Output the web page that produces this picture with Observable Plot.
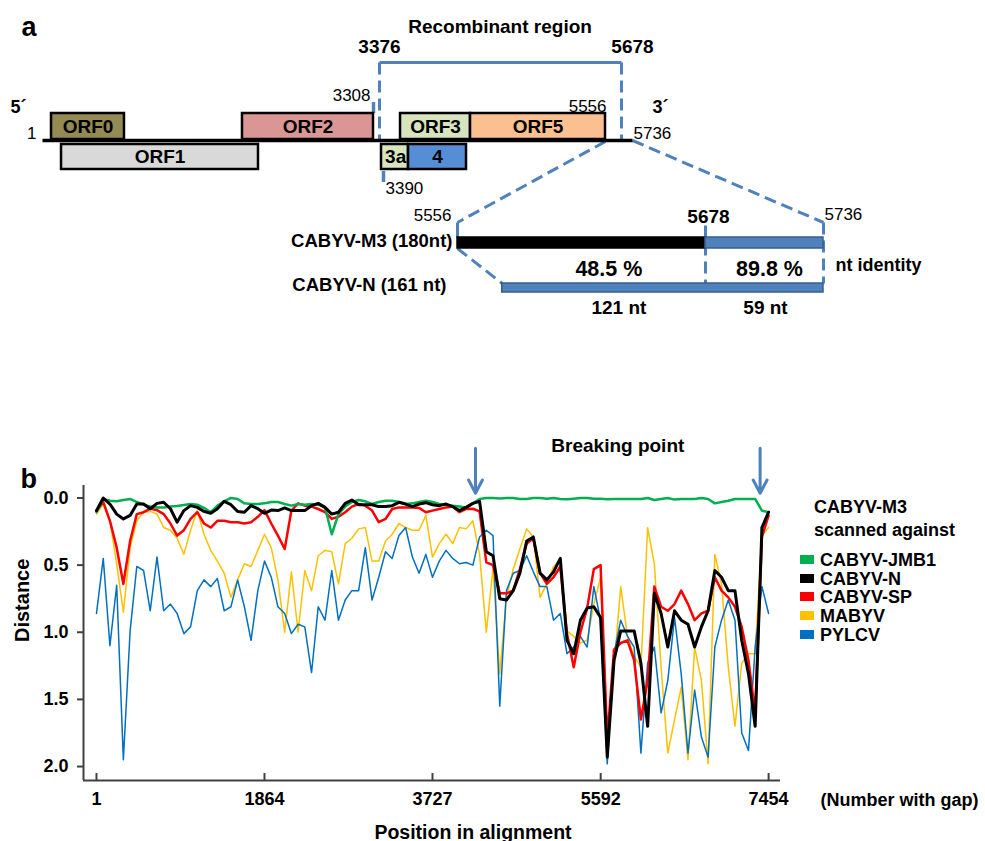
<!DOCTYPE html>
<html><head><meta charset="utf-8">
<script src="https://cdn.jsdelivr.net/npm/d3@7"></script>
<script src="https://cdn.jsdelivr.net/npm/@observablehq/plot@0.6"></script>
<style>
body{margin:0;background:#fff;font-family:"Liberation Sans",Arial,Helvetica,sans-serif;}
#page{position:relative;width:985px;height:841px;overflow:hidden;background:#fff;}
#page svg{display:block;}
.lg{position:absolute;font-weight:bold;font-size:18px;line-height:18px;white-space:nowrap;color:#000;}
.sw{position:absolute;width:14px;height:9px;}
</style></head><body><div id="page"></div>
<script>
// ================= DATA =================
// ---- panel a : genome map (nucleotide coordinates) ----
const genomeLength = 5736;
const orfNames = ["ORF0", "ORF1", "ORF2", "ORF3", "ORF5", "3a", "4"];
const orfStart = [91, 191, 1999, 3556, 4239, 3383, 3634];
const orfEnd   = [820, 2159, 3308, 4239, 5556, 3634, 4200];
const orfRow   = ["upper", "lower", "upper", "upper", "upper", "lower", "lower"];
const recombStart = 3376, recombEnd = 5678;
const markerTop = 3308, markerBottom = 3390;
const insetStart = 5556, insetBreak = 5678, insetEnd = 5736;
const nStart = 5578;
const identityLabels = ["48.5 %", "89.8 %"];
const lengthLabels = ["121 nt", "59 nt"];

// ---- panel b : distance scan ----
const positions = [1,76,150,225,299,374,448,523,597,672,746,821,895,970,1044,1119,1193,1268,1342,1417,
1492,1566,1641,1715,1790,1864,1939,2013,2088,2162,2237,2311,2386,2460,2535,2610,2684,2759,2833,2908,
2982,3057,3131,3206,3280,3355,3429,3504,3578,3653,3727,3802,3877,3951,4026,4100,4175,4249,4324,4398,
4473,4547,4622,4696,4771,4845,4920,4995,5069,5144,5218,5293,5367,5442,5516,5591,5665,5740,5814,5889,
5963,6038,6113,6187,6262,6336,6411,6485,6560,6634,6709,6783,6858,6932,7007,7081,7156,7231,7305,7380,7454];
const jmb1 = [0.106,0.007,0.02,0.025,0.015,0.007,0.03,0.05,0.064,0.07,
0.07,0.064,0.06,0.052,0.045,0.05,0.074,0.106,0.057,0.025,
0.0,0.007,0.04,0.045,0.045,0.04,0.03,0.03,0.045,0.057,
0.045,0.05,0.045,0.05,0.07,0.27,0.12,0.064,0.03,0.015,
0.025,0.045,0.03,0.02,0.02,0.03,0.045,0.04,0.03,0.02,
0.03,0.045,0.05,0.057,0.064,0.07,0.04,0.007,0.0,0.0,
0.003,0.0,0.0,0.007,0.007,0.0,0.0,0.005,0.0,0.007,
0.01,0.005,0.0,0.0,0.005,0.005,0.01,0.007,0.007,0.007,
0.007,0.007,0.0,0.015,0.007,0.0,0.012,0.007,0.007,0.007,
0.0,0.007,0.04,0.03,0.02,0.007,0.007,0.007,0.007,0.094,0.106];
const cabyvN = [0.094,0.0,0.045,0.12,0.156,0.13,0.045,0.045,0.08,0.04,
0.032,0.08,0.18,0.094,0.057,0.07,0.1,0.114,0.08,0.025,
0.05,0.1,0.106,0.057,0.08,0.114,0.09,0.094,0.074,0.094,
0.094,0.094,0.057,0.04,0.07,0.12,0.106,0.04,0.015,0.05,
0.05,0.05,0.064,0.064,0.057,0.032,0.045,0.064,0.045,0.035,
0.05,0.057,0.045,0.064,0.094,0.07,0.04,0.025,0.4,0.43,
0.75,0.76,0.69,0.56,0.32,0.29,0.56,0.61,0.55,0.45,
1.06,1.16,0.91,0.82,0.81,0.89,1.93,1.21,0.99,0.99,
0.99,1.23,1.7,0.71,0.86,1.11,0.84,0.91,0.94,1.11,
0.96,0.84,0.54,0.59,0.69,0.69,1.06,1.31,1.7,0.22,0.106];
const cabyvSP = [0.094,0.03,0.17,0.37,0.64,0.32,0.12,0.106,0.08,0.09,
0.12,0.19,0.28,0.24,0.156,0.106,0.19,0.22,0.17,0.17,
0.18,0.18,0.19,0.18,0.14,0.09,0.19,0.28,0.38,0.094,
0.04,0.057,0.064,0.082,0.106,0.156,0.14,0.106,0.064,0.045,
0.057,0.094,0.18,0.156,0.082,0.07,0.07,0.07,0.074,0.106,
0.094,0.082,0.07,0.064,0.106,0.082,0.08,0.1,0.48,0.5,
0.71,0.71,0.69,0.53,0.34,0.3,0.56,0.64,0.59,0.51,
1.01,1.26,1.0,0.82,0.53,0.5,1.8,1.13,1.08,1.06,
1.21,1.65,1.36,0.66,0.81,0.84,0.79,0.69,0.79,0.91,
0.86,0.84,0.59,0.69,0.74,0.81,0.96,1.21,1.6,0.29,0.13];
const mabyv = [0.12,0.045,0.17,0.49,0.85,0.37,0.17,0.106,0.1,0.12,
0.22,0.24,0.3,0.42,0.24,0.094,0.27,0.39,0.47,0.56,
0.74,0.61,0.49,0.51,0.39,0.27,0.37,0.61,1.0,0.55,
1.0,0.54,0.69,0.43,0.39,0.4,0.64,0.34,0.3,0.23,
0.22,0.47,0.47,0.32,0.27,0.19,0.22,0.24,0.24,0.13,
0.44,0.34,0.27,0.34,0.22,0.23,0.17,0.42,1.0,0.52,
1.31,0.74,0.53,0.38,0.23,0.29,0.74,0.64,0.51,0.47,
0.99,1.03,1.08,1.06,0.79,0.59,1.78,1.26,0.66,1.03,
1.18,1.26,0.22,0.49,1.26,1.9,1.65,1.41,1.95,1.11,
1.36,1.98,0.42,0.64,1.26,1.7,1.23,1.16,1.16,0.28,0.22];
const pylcv = [0.86,0.45,1.1,0.65,1.95,0.99,0.51,0.54,0.84,0.44,
0.84,0.79,0.86,1.01,0.96,0.69,0.61,0.66,0.6,0.84,
0.81,0.61,0.81,1.06,0.69,0.47,0.59,0.81,0.86,1.01,
0.94,0.96,1.3,0.81,0.91,0.54,0.91,0.76,0.69,0.69,
0.37,0.76,0.59,0.4,0.45,0.28,0.22,0.44,0.56,0.42,
0.59,0.47,0.39,0.45,0.49,0.48,0.5,0.29,0.24,0.28,
1.55,0.69,0.56,0.54,0.43,0.55,0.66,0.66,0.91,0.86,
1.16,1.11,1.03,1.11,0.66,0.91,1.98,1.16,0.91,1.03,
1.11,1.9,1.23,1.11,1.6,1.36,0.89,1.31,1.9,1.43,
1.78,1.93,1.11,0.91,0.76,0.91,1.75,1.88,1.11,0.66,0.86];
const seriesNames = ["CABYV-JMB1", "CABYV-N", "CABYV-SP", "MABYV", "PYLCV"];
const seriesValues = [jmb1, cabyvN, cabyvSP, mabyv, pylcv];
const xTicks = [1, 1864, 3727, 5592, 7454];
const yTicks = [0, 0.5, 1, 1.5, 2];
const breakpoints = [4204, 7360];

// ================= STYLE / LAYOUT =================
const FONT = '"Liberation Sans", Arial, Helvetica, sans-serif';
const BLUE = "#4f81bd", BLUE_DARK = "#385d8a", AXIS = "#404040";
const seriesColors = ["#00b050", "#000000", "#ff0000", "#ffc000", "#0070c0"];
const seriesWidths = [2.5, 3, 2.5, 1.5, 1.5];
const drawOrder = [3, 4, 2, 0, 1];
const orfFill = {ORF0: "#948a54", ORF1: "#d9d9d9", ORF2: "#d99694", ORF3: "#d7e4bd", ORF5: "#fac090", "3a": "#d7e4bd", "4": "#558ed5"};
const genomeKnots = [1, 3308, 3376, 3390, 5556, 5678, 5736];
const genomePx = [42, 373, 379, 383, 605, 621, 632];
const insetPx = [457, 705, 823];
const rowY = {upper: [113, 139], lower: [144, 169]};
const LINE_Y = 140, BRACKET_Y = 62, INSET_TOP = 222, M3_Y = [237, 248], N_Y = [283, 292];
const DASH = "12,6";

const mainX = d3.scaleLinear(genomeKnots, genomePx);
const insetX = d3.scaleLinear([insetStart, insetBreak, insetEnd], insetPx);
const toMain = nt => mainX.invert(insetX(nt));

const page = document.getElementById("page");

// ================= PANEL A =================
const orfs = orfNames.map((name, i) => ({name, start: orfStart[i], end: orfEnd[i], row: orfRow[i]}));
const dashed = [
  {x1: recombStart, y1: BRACKET_Y, x2: recombStart, y2: LINE_Y},
  {x1: recombEnd, y1: BRACKET_Y, x2: recombEnd, y2: LINE_Y},
  {x1: insetStart, y1: LINE_Y + 1, x2: toMain(insetStart), y2: INSET_TOP},
  {x1: genomeLength, y1: LINE_Y, x2: toMain(insetEnd), y2: INSET_TOP},
  {x1: toMain(insetBreak), y1: 225, x2: toMain(insetBreak), y2: N_Y[0]},
  {x1: toMain(insetEnd), y1: INSET_TOP, x2: toMain(insetEnd), y2: N_Y[0]},
  {x1: toMain(insetStart), y1: M3_Y[1], x2: toMain(nStart), y2: N_Y[0]}
];
const solid = [
  {x1: recombStart, y1: BRACKET_Y, x2: recombEnd, y2: BRACKET_Y},
  {x1: toMain(insetStart), y1: INSET_TOP, x2: toMain(insetStart), y2: M3_Y[0]}
];
const m3Bars = [
  {x1: toMain(insetStart), x2: toMain(insetBreak), fill: "#000000", stroke: "#000000"},
  {x1: toMain(insetBreak), x2: toMain(insetEnd), fill: BLUE, stroke: BLUE_DARK}
];
const nBars = [{x1: toMain(nStart), x2: toMain(insetEnd), fill: BLUE, stroke: BLUE_DARK}];

const T = (text, x, y, o = {}) => Plot.text([text], {x: () => x, y: () => y, text: d => d, lineAnchor: "bottom", fontSize: 17, fontWeight: "normal", fill: "#000", ...o});
const B = {fontWeight: "bold"};
const mid1 = toMain((nStart + insetBreak) / 2), mid2 = toMain((insetBreak + insetEnd) / 2);

const chartA = Plot.plot({
  width: 985, height: 400, margin: 0,
  style: {fontFamily: FONT, background: "transparent", overflow: "visible", color: "#000"},
  x: {type: "linear", domain: genomeKnots, range: genomePx, axis: null},
  y: {type: "linear", domain: [0, 400], range: [0, 400], axis: null},
  color: {type: "identity"},
  marks: [
    Plot.link(dashed, {x1: "x1", y1: "y1", x2: "x2", y2: "y2", stroke: BLUE, strokeWidth: 3, strokeDasharray: DASH}),
    Plot.link(solid, {x1: "x1", y1: "y1", x2: "x2", y2: "y2", stroke: BLUE, strokeWidth: 3}),
    Plot.ruleX([markerTop], {x: d => d, y1: () => 102, y2: () => 113, stroke: BLUE, strokeWidth: 3.5}),
    Plot.ruleX([markerBottom], {x: d => d, y1: () => 171, y2: () => 182, stroke: BLUE, strokeWidth: 3.5}),
    Plot.link([genomeLength], {x1: () => 1, x2: d => d, y1: () => LINE_Y, y2: () => LINE_Y, stroke: "#000", strokeWidth: 3.5}),
    Plot.rect(orfs, {x1: "start", x2: "end", y1: d => rowY[d.row][0], y2: d => rowY[d.row][1], fill: d => orfFill[d.name], stroke: "#000", strokeWidth: 2.5}),
    Plot.text(orfs, {x: d => (d.start + d.end) / 2, y: d => (rowY[d.row][0] + rowY[d.row][1]) / 2, text: "name", fontSize: 19, fontWeight: "bold", fill: "#000"}),
    Plot.rect(m3Bars, {x1: "x1", x2: "x2", y1: () => M3_Y[0], y2: () => M3_Y[1], fill: "fill", stroke: "stroke", strokeWidth: 1.5}),
    Plot.rect(nBars, {x1: "x1", x2: "x2", y1: () => N_Y[0], y2: () => N_Y[1], fill: "fill", stroke: "stroke", strokeWidth: 1.5}),
    Plot.text(["a"], {frameAnchor: "top-left", dx: 21, dy: 35, lineAnchor: "bottom", textAnchor: "start", fontSize: 27, fontWeight: "bold", fill: "#000"}),
    T("Recombinant region", (recombStart + recombEnd) / 2, 32, {...B, fontSize: 19}),
    T(String(recombStart), recombStart, 52, {...B, fontSize: 19}),
    T(String(recombEnd), recombEnd, 52, {...B, fontSize: 19, dx: 11}),
    T(String(markerTop), markerTop, 100, {textAnchor: "end", dx: -3}),
    T(String(insetStart), insetStart, 111, {textAnchor: "end", dx: 1}),
    T("5´", 1, 112, {...B, fontSize: 18, textAnchor: "start", dx: -32}),
    T("1", 1, 138, {textAnchor: "end", dx: -6}),
    T("3´", genomeLength, 112, {...B, fontSize: 18, textAnchor: "start", dx: 20}),
    T(String(genomeLength), genomeLength, 138, {textAnchor: "start", dx: 1}),
    T(String(markerBottom), markerBottom, 193, {textAnchor: "start", dx: 2}),
    T(String(insetStart), toMain(insetStart), 220, {textAnchor: "end", dx: -6}),
    T(String(insetBreak), toMain(insetBreak), 222, {...B, fontSize: 19, dx: 3}),
    T(String(insetEnd), toMain(insetEnd), 219, {textAnchor: "start", dx: 1}),
    T("CABYV-M3 (180nt)", toMain(insetStart), 246, {...B, fontSize: 18.5, textAnchor: "end", dx: -5}),
    T("CABYV-N (161 nt)", toMain(insetStart), 290, {...B, fontSize: 18.5, textAnchor: "end", dx: -11}),
    T(identityLabels[0], mid1, 275, {...B, fontSize: 21.5, dx: 5}),
    T(identityLabels[1], mid2, 275, {...B, fontSize: 21.5, dx: 5}),
    T("nt identity", toMain(insetEnd), 270, {...B, fontSize: 18, textAnchor: "start", dx: 12}),
    T(lengthLabels[0], mid1, 313, {...B, fontSize: 19, dx: 15}),
    T(lengthLabels[1], mid2, 313, {...B, fontSize: 19, dx: 1})
  ]
});
page.appendChild(chartA);

// ================= PANEL B =================
const xDomain = [-143, 7586], yDomain = [-0.093, 2.104];
const lineMarks = drawOrder.map(k => Plot.line(
  positions.map((p, i) => ({series: seriesNames[k], x: p, y: seriesValues[k][i]})),
  {x: "x", y: "y", stroke: seriesColors[k], strokeWidth: seriesWidths[k], strokeLinejoin: "round"}
));

const chartB = Plot.plot({
  width: 985, height: 441,
  marginTop: 85, marginBottom: 61, marginLeft: 83, marginRight: 205,
  style: {fontFamily: FONT, fontSize: "18px", fontWeight: "bold", background: "transparent", overflow: "visible", color: "#000"},
  x: {type: "linear", domain: xDomain, axis: null},
  y: {type: "linear", domain: yDomain, reverse: true, axis: null},
  marks: [
    Plot.axisY({ticks: yTicks, tickFormat: d3.format(".1f"), tickSize: 6, tickPadding: 9, stroke: AXIS, strokeWidth: 2, fontSize: 18, fontWeight: "bold", label: null}),
    Plot.axisX({ticks: xTicks, tickFormat: d3.format("d"), tickSize: 0, tickPadding: 12, fontSize: 18, fontWeight: "bold", label: null}),
    Plot.ruleX(xTicks, {x: d => d, y1: () => yDomain[1], y2: () => yDomain[1] - 0.052, stroke: AXIS, strokeWidth: 2}),
    ...lineMarks,
    Plot.ruleX([xDomain[0]], {stroke: AXIS, strokeWidth: 2}),
    Plot.ruleY([yDomain[1]], {stroke: AXIS, strokeWidth: 2}),
    Plot.arrow(breakpoints, {x1: d => d, x2: d => d, y1: () => -0.37, y2: () => -0.035, stroke: BLUE, strokeWidth: 3, headLength: 16, headAngle: 55}),
    Plot.text(["Breaking point"], {x: () => d3.mean(breakpoints), y: () => -0.339, lineAnchor: "bottom", fontSize: 19, fontWeight: "bold", fill: "#000"}),
    Plot.text(["Distance"], {frameAnchor: "left", rotate: -90, dx: -61, dy: 9, fontSize: 20, fontWeight: "bold", fill: "#000"}),
    Plot.text(["Position in alignment"], {frameAnchor: "bottom", dx: 41, dy: 58, lineAnchor: "bottom", fontSize: 19.5, fontWeight: "bold", fill: "#000"}),
    Plot.text(["(Number with gap)"], {frameAnchor: "bottom-right", dx: 40, dy: 25, lineAnchor: "bottom", textAnchor: "start", fontSize: 18, fontWeight: "bold", fill: "#000"}),
    Plot.text(["b"], {frameAnchor: "top-left", dx: -63, dy: 2, lineAnchor: "bottom", textAnchor: "start", fontSize: 27, fontWeight: "bold", fill: "#000"})
  ]
});
page.appendChild(chartB);

// ================= LEGEND (right of panel b) =================
function addText(txt, left, baseline) {
  const d = document.createElement("div");
  d.className = "lg"; d.textContent = txt;
  d.style.left = left + "px"; d.style.top = (baseline - 15.2) + "px";
  page.appendChild(d);
}
addText("CABYV-M3", 814, 513);
addText("scanned against", 814, 536);
seriesNames.forEach((name, i) => {
  const base = 566 + i * 18.7;
  const s = document.createElement("div");
  s.className = "sw"; s.style.background = seriesColors[i];
  s.style.left = "800px"; s.style.top = (base - 11) + "px";
  page.appendChild(s);
  addText(name, 820, base);
});
</script></body></html>
